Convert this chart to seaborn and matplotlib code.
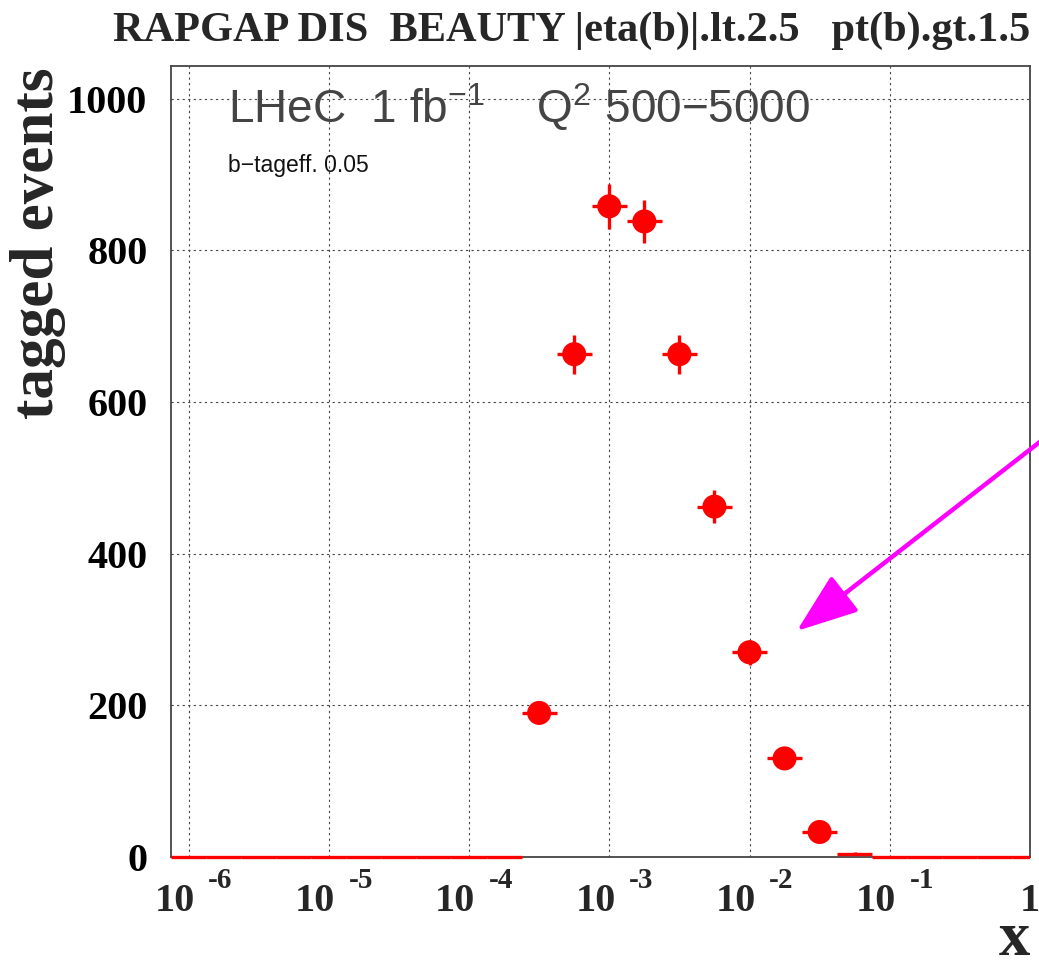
import numpy as np
import pandas as pd
import matplotlib
matplotlib.use("Agg")
import matplotlib.pyplot as plt
import matplotlib.ticker as mticker
import matplotlib.patches as mpatches
import seaborn as sns

# log10 of the bin centres in x (bins are a quarter of a decade wide)
log_x_centres = [-6.0, -5.75, -5.5, -5.25, -5.0, -4.75, -4.5, -4.25, -4.0, -3.75,
                 -3.5, -3.25, -3.0, -2.75, -2.5, -2.25, -2.0, -1.75, -1.5, -1.25,
                 -1.0, -0.75, -0.5, -0.25, 0.0]
# tagged b events per bin
tagged_events = [0, 0, 0, 0, 0, 0, 0, 0, 0, 0,
                 190, 663, 858, 838, 663, 462, 270, 130, 33, 4,
                 0, 0, 0, 0, 0]
bin_half_width = 0.125

decade_exponents = [-6, -5, -4, -3, -2, -1, 0]
y_major_ticks = [0, 200, 400, 600, 800, 1000]

title_text = "RAPGAP DIS  BEAUTY |eta(b)|.lt.2.5   pt(b).gt.1.5"
ylabel_text = "tagged events"
xlabel_text = "x"
lumi_text = "LHeC  1 fb$^{-1}$    Q$^2$ 500\u22125000"
tag_text = "b\u2212tageff. 0.05"

sns.set_theme(style="white")
plt.rcParams["font.family"] = ["Liberation Serif", "DejaVu Serif"]
plt.rcParams["mathtext.fontset"] = "custom"
plt.rcParams["mathtext.rm"] = "Liberation Sans"
plt.rcParams["mathtext.it"] = "Liberation Sans"

df = pd.DataFrame({"logx": log_x_centres, "n": tagged_events})
df["x"] = 10.0 ** df["logx"]
df["x_lo"] = df["x"] - 10.0 ** (df["logx"] - bin_half_width)
df["x_hi"] = 10.0 ** (df["logx"] + bin_half_width) - df["x"]
df["err"] = np.sqrt(df["n"])

W, H = 1039, 967
fig = plt.figure(figsize=(W / 100, H / 100), dpi=100)
ax = fig.add_axes([171 / W, 1 - 857 / H, 859 / W, 791 / H])
ax.set_xscale("log")
ax.set_xlim(10 ** (-6 - bin_half_width), 1.0)
ax.set_ylim(0, 1043)

# error bars for every bin (empty bins show only their x width on the axis)
eb = ax.errorbar(df["x"], df["n"], xerr=[df["x_lo"], df["x_hi"]], yerr=df["err"],
                 fmt="none", ecolor="#ff0000", elinewidth=2.4, capsize=0,
                 zorder=4)
# clip to the frame in x, but let the bars on y=0 show in full
clip_rect = mpatches.Rectangle((0, -0.02), 1, 1.04, transform=ax.transAxes,
                               fill=False, visible=False)
ax.add_patch(clip_rect)
for coll in eb.lines[2]:
    coll.set_clip_path(clip_rect)

# filled markers for the populated bins
filled = df[df["n"] >= 10]
sns.scatterplot(data=filled, x="x", y="n", ax=ax, color="#ff0000",
                s=300, edgecolor="none", linewidth=0, zorder=5, legend=False)

ax.set_xlabel("")
ax.set_ylabel("")

# frame
for side in ["left", "bottom", "right", "top"]:
    ax.spines[side].set_visible(True)
    ax.spines[side].set_color("#444444")
    ax.spines[side].set_linewidth(1.3)

# ticks
ax.xaxis.set_major_locator(mticker.FixedLocator([10.0 ** e for e in decade_exponents]))
ax.xaxis.set_minor_locator(mticker.LogLocator(base=10, subs=np.arange(2, 10), numticks=20))
ax.xaxis.set_major_formatter(mticker.NullFormatter())
ax.xaxis.set_minor_formatter(mticker.NullFormatter())
ax.set_yticks(y_major_ticks)
ax.yaxis.set_minor_locator(mticker.MultipleLocator(50))
ax.tick_params(axis="both", which="both", direction="in", colors="#444444",
               top=False, right=False)
ax.tick_params(axis="x", which="major", length=11, width=1.1)
ax.tick_params(axis="x", which="minor", length=7, width=1.0)
ax.tick_params(axis="y", which="major", length=11, width=1.1, pad=17,
               labelcolor="black", labelsize=29)
ax.tick_params(axis="y", which="minor", length=7, width=1.0)
for lab in ax.get_yticklabels():
    lab.set_fontweight("bold")

# grid
ax.grid(True, which="major", axis="both", color="#444444", linestyle=(0, (2, 3)),
        linewidth=0.8)
ax.set_axisbelow(True)

# decade labels: "10" with a raised exponent
xtrans = ax.get_xaxis_transform()
for e in decade_exponents:
    if e == 0:
        ax.annotate("1", xy=(1.0, 0), xycoords=xtrans, xytext=(0, -39),
                    textcoords="offset points", ha="center", va="baseline",
                    fontsize=29, fontweight="bold", annotation_clip=False)
    else:
        ax.annotate("10", xy=(10.0 ** e, 0), xycoords=xtrans, xytext=(-10, -39),
                    textcoords="offset points", ha="center", va="baseline",
                    fontsize=29, fontweight="bold", annotation_clip=False)
        ax.annotate(f"{e}", xy=(10.0 ** e, 0), xycoords=xtrans, xytext=(23, -22),
                    textcoords="offset points", ha="center", va="baseline",
                    fontsize=21, fontweight="bold", annotation_clip=False)

# titles
fig.text(1030 / W, 1 - 41 / H, title_text, ha="right", va="baseline",
         fontsize=30.5, fontweight="bold")
fig.text(38 / W, 1 - 67 / H, ylabel_text, rotation=90, ha="center", va="top",
         fontsize=44, fontweight="bold")
fig.text(1030 / W, 1 - 955 / H, xlabel_text, ha="right", va="baseline",
         fontsize=45, fontweight="bold")

# labels inside the frame
ax.text((228 - 171) / 859, (857 - 122) / 791, lumi_text, transform=ax.transAxes,
        ha="left", va="baseline", fontsize=33, color="#444444",
        family=["Liberation Sans", "DejaVu Sans"])
ax.text((228 - 171) / 859, (857 - 172) / 791, tag_text, transform=ax.transAxes,
        ha="left", va="baseline", fontsize=16.5, color="#111111",
        family=["Liberation Sans", "DejaVu Sans"])

# arrow coming in from the right edge
ax.annotate("", xy=(10 ** -1.663, 298), xycoords="data",
            xytext=(1050 / W, 1 - 434 / H), textcoords="figure fraction",
            arrowprops=dict(arrowstyle="-|>,head_length=1.9,head_width=0.7",
                            mutation_scale=20, color="#ff00ff", lw=3.2,
                            shrinkA=0, shrinkB=0),
            annotation_clip=False)

fig.savefig("out.png", dpi=100, facecolor="white")
